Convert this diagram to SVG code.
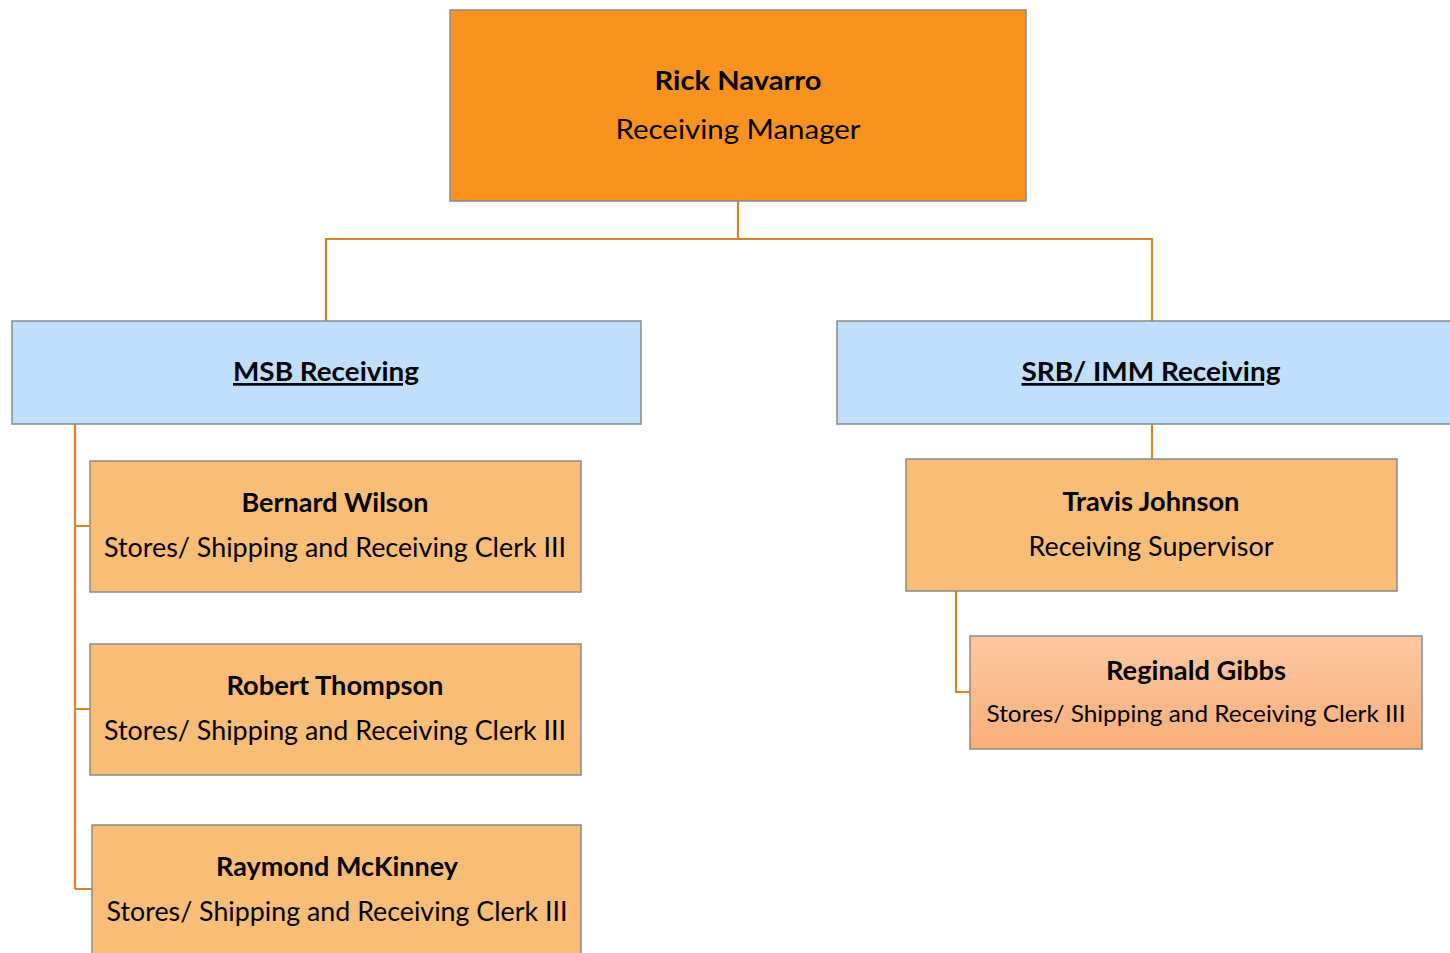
<svg xmlns="http://www.w3.org/2000/svg" width="1450" height="953" viewBox="0 0 1450 953">
<style>
text{font-family:Lato,"Open Sans","Noto Sans",sans-serif;fill:#000;text-anchor:middle}
.n{font-weight:bold;font-size:26px}
.t{font-size:26px}
.s{font-size:24px}
.h{font-weight:bold;font-size:27px;text-decoration:underline}
.box{stroke:#8a8a8a;stroke-width:1.5}
.top{fill:#F7931E}
.dept{fill:#C0DFFD}
.emp{fill:#F8BD77}
.conn{fill:none;stroke:#D9822B;stroke-width:2.2}
</style>
<defs>
<linearGradient id="peach" x1="0" y1="0" x2="0" y2="1">
<stop offset="0" stop-color="#FCC8A2"/>
<stop offset="1" stop-color="#F9AE7A"/>
</linearGradient>
</defs>
<rect width="1450" height="953" fill="#fff"/>
<g id="connectors">
<path class="conn" d="M738,201 V239 M326,321 V239 H1152 V321"/>
<path class="conn" d="M75,424 V889 M75,526 H90 M75,709 H90 M75,889 H92"/>
<path class="conn" d="M1152,424 V459"/>
<path class="conn" d="M956,591 V692 H970"/>
</g>
<g id="rick">
<rect class="box top" x="450" y="10" width="576" height="191"/>
<text class="n" x="738" y="90" textLength="167" lengthAdjust="spacingAndGlyphs">Rick Navarro</text>
<text class="t" x="738" y="139" textLength="245" lengthAdjust="spacingAndGlyphs">Receiving Manager</text>
</g>
<g id="msb">
<rect class="box dept" x="12" y="321" width="629" height="103"/>
<text class="h" x="326" y="381" textLength="186" lengthAdjust="spacingAndGlyphs">MSB Receiving</text>
</g>
<g id="srb">
<rect class="box dept" x="837" y="321" width="620" height="103"/>
<text class="h" x="1151" y="381" textLength="259" lengthAdjust="spacingAndGlyphs">SRB/ IMM Receiving</text>
</g>
<g id="bernard">
<rect class="box emp" x="90" y="461" width="491" height="131"/>
<text class="n" x="335" y="512" textLength="187" lengthAdjust="spacingAndGlyphs">Bernard Wilson</text>
<text class="t" x="335" y="557" textLength="462" lengthAdjust="spacingAndGlyphs">Stores/ Shipping and Receiving Clerk III</text>
</g>
<g id="robert">
<rect class="box emp" x="90" y="644" width="491" height="131"/>
<text class="n" x="335" y="695" textLength="217" lengthAdjust="spacingAndGlyphs">Robert Thompson</text>
<text class="t" x="335" y="740" textLength="462" lengthAdjust="spacingAndGlyphs">Stores/ Shipping and Receiving Clerk III</text>
</g>
<g id="raymond">
<rect class="box emp" x="92" y="825" width="489" height="140"/>
<text class="n" x="337" y="876" textLength="242" lengthAdjust="spacingAndGlyphs">Raymond McKinney</text>
<text class="t" x="337" y="921" textLength="461" lengthAdjust="spacingAndGlyphs">Stores/ Shipping and Receiving Clerk III</text>
</g>
<g id="travis">
<rect class="box emp" x="906" y="459" width="491" height="132"/>
<text class="n" x="1151" y="511" textLength="177" lengthAdjust="spacingAndGlyphs">Travis Johnson</text>
<text class="t" x="1151" y="556" textLength="245" lengthAdjust="spacingAndGlyphs">Receiving Supervisor</text>
</g>
<g id="reginald">
<rect class="box" fill="url(#peach)" x="970" y="636" width="452" height="113"/>
<text class="n" x="1196" y="680" textLength="180" lengthAdjust="spacingAndGlyphs">Reginald Gibbs</text>
<text class="s" x="1196" y="722" textLength="419" lengthAdjust="spacingAndGlyphs">Stores/ Shipping and Receiving Clerk III</text>
</g>
</svg>
